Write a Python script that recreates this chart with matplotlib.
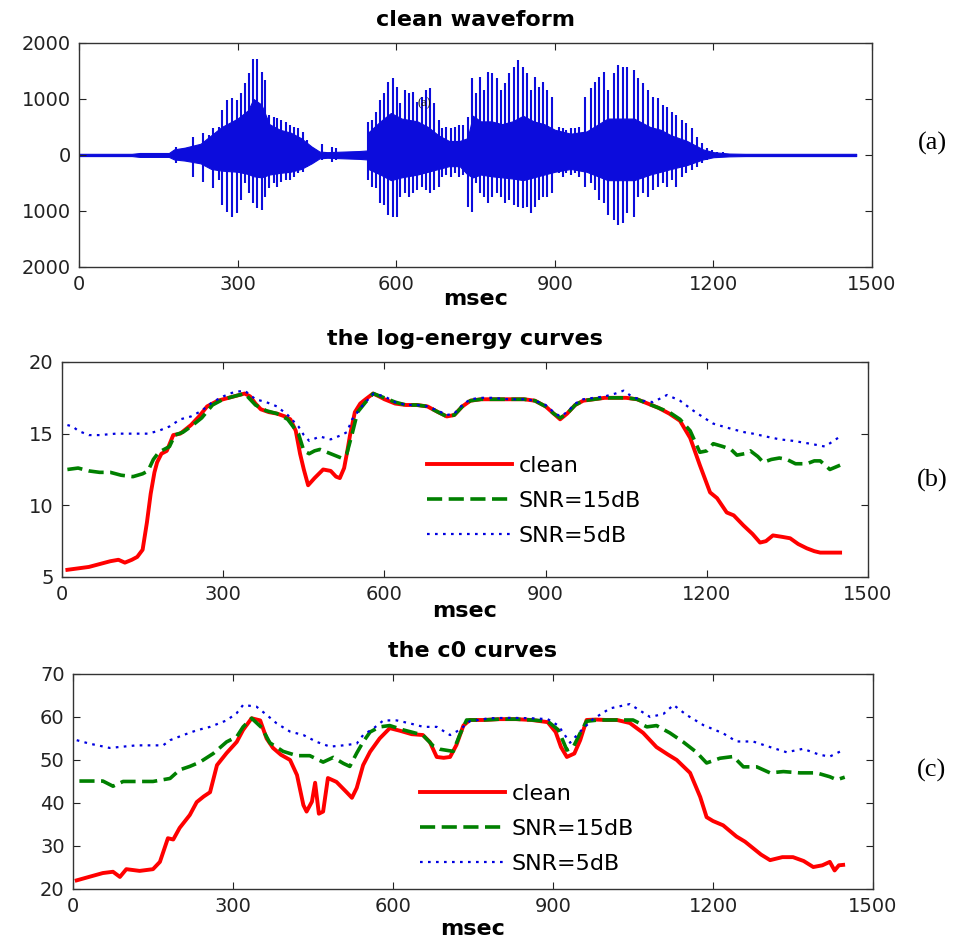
"""Speech frame features: clean waveform, log-energy and c0 under noise."""

import matplotlib

matplotlib.use("Agg")
import matplotlib.pyplot as plt
from matplotlib.ticker import FixedLocator, FixedFormatter

plt.rcParams["font.family"] = "DejaVu Sans"

# ---- (a) waveform: body envelope and pitch pulses (msec, amplitude) ----
ENV_T = [0, 100, 115, 170, 180, 200, 230, 250, 270, 300, 320, 330, 345, 360, 380,
         400, 420, 440, 455, 470, 500, 530, 545, 547, 570, 590, 610, 640, 660, 680,
         700, 720, 735, 745, 760, 780, 800, 820, 840, 860, 880, 900, 930, 960, 1000,
         1050, 1080, 1100, 1120, 1150, 1180, 1200, 1230, 1260, 1470]
ENV_HI = [20, 20, 35, 35, 100, 130, 200, 350, 500, 650, 800, 1000, 900, 550, 450,
          400, 300, 150, 60, 50, 60, 70, 80, 400, 600, 750, 650, 600, 500, 350,
          250, 250, 300, 700, 600, 600, 550, 600, 700, 600, 550, 450, 380, 420, 650,
          650, 500, 450, 350, 250, 100, 50, 25, 20, 20]
ENV_LO = [-20, -20, -35, -35, -80, -100, -150, -250, -280, -300, -340, -380, -400, -350, -320,
          -300, -250, -150, -60, -50, -60, -70, -80, -250, -350, -450, -400, -350, -300, -250,
          -200, -200, -350, -400, -350, -380, -400, -420, -450, -400, -350, -300, -250, -300, -450,
          -450, -350, -300, -250, -180, -80, -40, -25, -20, -20]

PULSE_T = [183, 200, 216, 235, 246, 254, 264, 271, 279, 289, 298, 306, 314, 322, 330,
           336, 346, 352, 360, 368, 375, 383, 392, 399, 407, 415, 423, 431, 440, 459,
           478, 487,
           547, 554, 561, 569, 577, 585, 593, 601, 608, 617, 624, 632, 640, 648, 656,
           664, 672, 680, 687, 695, 703, 711, 719, 727, 735, 743, 750, 758, 766, 774,
           782, 790, 798, 806, 813, 822, 831, 839, 847, 854, 862, 870, 878, 886, 894,
           907, 915, 922, 930, 938, 946, 957, 968, 976, 984, 993, 1001, 1011, 1020,
           1028, 1037, 1049, 1058, 1067, 1077, 1086, 1096, 1105, 1112, 1121, 1130,
           1140, 1149, 1159, 1168, 1178, 1187, 1197, 1206, 1219]
PULSE_HI = [149, 120, 328, 387, 358, 477, 506, 804, 983, 1012, 983, 1102, 1280, 1459, 1709,
            1709, 1489, 1340, 715, 685, 655, 625, 596, 536, 506, 477, 417, 268, 149, 197,
            149, 120,
            596, 625, 774, 983, 1102, 1310, 1370, 1221, 923, 1161, 1102, 1131, 953, 1042, 1161,
            1191, 923, 625, 477, 506, 477, 506, 536, 536, 685, 1370, 1102, 1399, 1161, 1489,
            1459, 1370, 1161, 1280, 1459, 1578, 1697, 1578, 1459, 1161, 1399, 1221, 1310, 1161, 1042,
            506, 477, 447, 477, 477, 506, 1042, 1191, 1310, 1399, 1489, 1161, 1459, 1608,
            1578, 1578, 1518, 1370, 1280, 1161, 1042, 1012, 893, 864, 774, 715,
            625, 566, 477, 328, 208, 120, 89, 60, 48]
PULSE_LO = [-148, -89, -386, -476, -208, -595, -446, -892, -1011, -1100, -1041, -803, -505, -684, -863,
            -952, -982, -744, -595, -505, -565, -476, -446, -446, -386, -327, -297, -208, -118, -89,
            -118, -89,
            -446, -565, -595, -862, -892, -1071, -1100, -1100, -744, -684, -744, -684, -625, -565, -625,
            -684, -625, -565, -386, -357, -386, -327, -386, -357, -922, -1011, -505, -684, -744, -863,
            -744, -684, -744, -863, -803, -892, -922, -952, -922, -1041, -922, -803, -744, -744, -684,
            -327, -386, -327, -357, -327, -386, -565, -505, -625, -803, -863, -1071, -1160, -1249,
            -1219, -1041, -1100, -744, -684, -744, -625, -565, -505, -565, -446, -565,
            -386, -327, -267, -208, -148, -89, -60, -60, -42]

# ---- (b) log-energy curves ----
LE_CLEAN_T = [10, 30, 50, 70, 90, 105, 117, 130, 140, 150, 158, 165, 172, 177, 185,
              195, 207, 220, 240, 255, 270, 290, 310, 330, 340, 350, 360, 370, 385, 400,
              415, 425, 435, 443, 450, 458, 470, 486, 500, 510, 517, 525, 531, 536, 545,
              555, 565, 579, 590, 600, 620, 640, 660, 680, 700, 716, 730, 745, 760, 780,
              800, 830, 860, 880, 900, 915, 927, 940, 955, 970, 990, 1010, 1030, 1050, 1070,
              1090, 1110, 1130, 1150, 1169, 1187, 1206, 1219, 1237, 1250, 1268, 1285, 1299, 1310,
              1323, 1340, 1355, 1370, 1386, 1400, 1411, 1430, 1448]
LE_CLEAN = [5.5, 5.6, 5.7, 5.9, 6.1, 6.2, 6.0, 6.2, 6.4, 6.9, 8.8, 10.8, 12.3, 13.0, 13.6,
            13.8, 14.9, 15.0, 15.6, 16.2, 16.9, 17.3, 17.5, 17.7, 17.8, 17.6, 17.1, 16.7, 16.5, 16.4,
            16.2, 16.0, 15.2, 13.6, 12.5, 11.4, 11.9, 12.5, 12.4, 12.0, 11.9, 12.6, 13.8, 14.9, 16.5,
            17.1, 17.4, 17.8, 17.6, 17.4, 17.1, 17.0, 17.0, 16.9, 16.5, 16.2, 16.3, 16.9, 17.3, 17.4,
            17.4, 17.4, 17.4, 17.3, 16.9, 16.4, 16.0, 16.4, 17.0, 17.3, 17.4, 17.5, 17.5, 17.5, 17.4,
            17.1, 16.8, 16.4, 15.9, 14.7, 12.8, 10.9, 10.5, 9.5, 9.3, 8.6, 8.0, 7.4, 7.5,
            7.9, 7.8, 7.7, 7.3, 7.0, 6.8, 6.7, 6.7, 6.7]

LE_15DB_T = [10, 30, 50, 70, 90, 110, 132, 150, 160, 170, 180, 190, 200, 210, 225,
             240, 260, 280, 300, 320, 340, 360, 380, 400, 420, 440, 450, 460, 470, 480,
             500, 520, 530, 540, 550, 565, 579, 600, 620, 640, 660, 680, 700, 716, 730,
             745, 760, 780, 800, 830, 860, 880, 900, 915, 927, 940, 955, 970, 990, 1010,
             1030, 1050, 1070, 1090, 1110, 1130, 1150, 1169, 1187, 1200, 1212, 1230, 1245, 1256, 1270,
             1281, 1295, 1305, 1320, 1335, 1349, 1365, 1386, 1400, 1411, 1420, 1429, 1448]
LE_15DB = [12.5, 12.6, 12.4, 12.3, 12.3, 12.1, 12.0, 12.2, 12.4, 13.2, 13.7, 13.9, 14.1, 14.9, 15.1,
           15.5, 16.1, 17.0, 17.4, 17.6, 17.8, 17.0, 16.6, 16.4, 16.0, 15.0, 13.8, 13.6, 13.8, 13.9,
           13.6, 13.3, 13.6, 15.0, 16.5, 17.2, 17.8, 17.5, 17.2, 17.0, 17.0, 16.9, 16.5, 16.2, 16.3,
           16.9, 17.3, 17.4, 17.4, 17.4, 17.4, 17.3, 16.9, 16.4, 16.1, 16.4, 17.0, 17.3, 17.4, 17.5,
           17.5, 17.5, 17.4, 17.1, 16.8, 16.5, 16.0, 15.2, 13.7, 13.8, 14.3, 14.1, 13.9, 13.5, 13.6,
           13.8, 13.4, 13.0, 13.2, 13.3, 13.2, 12.9, 12.9, 13.1, 13.1, 12.8, 12.5, 12.8]

LE_5DB_T = [10, 20, 30, 50, 70, 100, 130, 160, 180, 200, 220, 240, 260, 280, 300,
            320, 340, 360, 380, 400, 420, 440, 450, 460, 480, 500, 520, 530, 540, 560,
            580, 600, 620, 640, 660, 680, 700, 716, 730, 745, 760, 780, 800, 830, 860,
            880, 900, 915, 927, 940, 955, 970, 990, 1010, 1030, 1045, 1060, 1080, 1100, 1126,
            1150, 1175, 1195, 1212, 1230, 1249, 1270, 1286, 1310, 1336, 1360, 1392, 1420, 1448]
LE_5DB = [15.6, 15.5, 15.2, 14.9, 14.9, 15.0, 15.0, 15.0, 15.2, 15.5, 16.0, 16.2, 16.6, 17.2, 17.6,
          17.9, 18.0, 17.4, 17.2, 16.9, 16.3, 15.5, 14.9, 14.5, 14.8, 14.6, 14.9, 15.1, 16.0, 17.0,
          17.8, 17.6, 17.2, 17.0, 17.0, 16.9, 16.6, 16.3, 16.4, 17.0, 17.4, 17.5, 17.5, 17.4, 17.4,
          17.3, 17.0, 16.5, 16.2, 16.5, 17.1, 17.4, 17.5, 17.6, 17.8, 18.0, 17.6, 17.3, 17.2, 17.7,
          17.3, 16.6, 16.1, 15.7, 15.5, 15.3, 15.1, 15.0, 14.8, 14.6, 14.5, 14.3, 14.1, 14.8]

# ---- (c) c0 curves ----
C0_CLEAN_T = [7, 30, 56, 75, 88, 100, 125, 150, 163, 178, 188, 200, 219, 232, 245,
              257, 270, 288, 307, 319, 335, 351, 363, 375, 390, 407, 420, 432, 438, 448,
              454, 461, 469, 478, 494, 513, 523, 532, 544, 557, 575, 594, 613, 635, 656,
              669, 682, 695, 707, 719, 732, 744, 770, 800, 830, 860, 890, 905, 915, 926,
              940, 951, 963, 980, 1000, 1020, 1044, 1069, 1094, 1115, 1132, 1157, 1176, 1188, 1200,
              1219, 1244, 1260, 1275, 1290, 1307, 1330, 1350, 1370, 1388, 1405, 1419, 1428, 1436, 1444]
C0_CLEAN = [22.0, 22.8, 23.7, 24.0, 22.8, 24.6, 24.2, 24.6, 26.3, 31.8, 31.5, 34.2, 37.2, 40.2, 41.5,
            42.5, 48.8, 51.6, 54.2, 57.0, 59.7, 59.2, 55.0, 52.8, 51.2, 50.0, 46.5, 39.5, 38.0, 40.3,
            44.7, 37.5, 38.0, 45.8, 44.9, 42.5, 41.2, 43.5, 48.8, 51.9, 55.0, 57.4, 56.8, 56.0, 55.8,
            54.2, 50.7, 50.5, 50.7, 53.5, 58.0, 59.3, 59.3, 59.5, 59.5, 59.3, 58.8, 56.5, 53.0, 50.7,
            51.5, 54.6, 59.3, 59.4, 59.3, 59.3, 58.6, 56.3, 53.0, 51.3, 50.0, 47.0, 41.4, 36.7, 35.8,
            34.8, 32.2, 31.0, 29.5, 28.0, 26.7, 27.4, 27.4, 26.5, 25.1, 25.5, 26.3, 24.3, 25.5, 25.6]

C0_15DB_T = [12, 56, 75, 94, 150, 182, 200, 219, 238, 263, 288, 307, 319, 335, 354,
             369, 394, 420, 444, 469, 488, 507, 519, 532, 544, 557, 575, 594, 619, 656,
             676, 688, 713, 725, 738, 770, 800, 830, 860, 890, 910, 926, 938, 952, 963,
             985, 1006, 1050, 1076, 1094, 1119, 1144, 1169, 1188, 1213, 1238, 1257, 1282, 1307, 1332,
             1363, 1394, 1419, 1432, 1447]
C0_15DB = [45.1, 45.1, 43.9, 45.0, 45.0, 45.7, 47.7, 48.5, 49.5, 51.5, 54.2, 55.4, 57.7, 59.7, 57.5,
           54.0, 52.0, 51.0, 51.0, 49.5, 50.6, 49.2, 48.5, 51.6, 54.2, 56.5, 57.7, 58.0, 57.0, 55.8,
           53.2, 52.5, 52.0, 55.8, 59.3, 59.3, 59.5, 59.5, 59.3, 59.0, 57.0, 52.3, 53.0, 56.5, 59.0,
           59.3, 59.3, 59.3, 57.7, 58.0, 56.3, 54.2, 51.8, 49.3, 50.4, 50.8, 48.4, 48.4, 47.0, 47.3,
           47.0, 47.0, 46.1, 45.4, 46.0]

C0_5DB_T = [7, 31, 69, 119, 169, 182, 207, 232, 257, 288, 307, 319, 344, 363, 382,
            407, 432, 457, 482, 507, 532, 544, 563, 582, 607, 632, 657, 682, 707, 725,
            744, 780, 820, 860, 890, 910, 932, 950, 975, 1007, 1044, 1082, 1107, 1126, 1150,
            1182, 1219, 1244, 1275, 1307, 1338, 1369, 1400, 1419, 1444]
C0_5DB = [54.6, 53.8, 52.8, 53.4, 53.4, 54.6, 55.8, 56.9, 57.7, 59.2, 60.9, 62.8, 62.4, 60.5, 58.5,
          56.6, 55.8, 54.2, 53.1, 53.4, 53.8, 55.8, 57.3, 59.2, 59.2, 58.5, 57.7, 57.7, 55.8, 57.0,
          59.0, 59.7, 59.8, 59.7, 59.5, 58.0, 54.0, 56.5, 59.5, 62.0, 63.0, 60.0, 60.7, 62.8, 60.5,
          58.1, 56.2, 54.3, 54.3, 53.0, 51.8, 52.6, 51.2, 50.8, 52.3]

X_TICKS = [0, 300, 600, 900, 1200, 1500]
WAVE_TICKS = [-2000, -1000, 0, 1000, 2000]
WAVE_TICK_LABELS = ["2000", "1000", "0", "1000", "2000"]
LEGEND_LABELS = ["clean", "SNR=15dB", "SNR=5dB"]

WAVE_BLUE = "#0c0cdc"
RED = "#ff0000"
GREEN = "#008000"
BLUE = "#0000e0"


def style_axes(ax, label_y):
    ax.set_xlim(0, 1500)
    ax.set_xticks(X_TICKS)
    ax.tick_params(direction="in", top=True, right=True, length=5, width=0.8,
                   pad=6, labelsize=14, colors="#222222")
    for sp in ax.spines.values():
        sp.set_color("#333333")
        sp.set_linewidth(1.0)
    ax.set_xlabel("msec", fontsize=16, fontweight="bold")
    ax.xaxis.set_label_coords(0.5, label_y)
    ax.xaxis.label.set_va("baseline")


def draw_curves(ax, series):
    lines = []
    for (t, v), color, ls, lw in zip(
        series,
        [RED, GREEN, BLUE],
        ["-", (0, (4.2, 1.8)), (0, (1.2, 2.4))],
        [2.8, 2.6, 1.6],
    ):
        (ln,) = ax.plot(t, v, color=color, linestyle=ls, linewidth=lw)
        lines.append(ln)
    return lines


def add_legend(ax, handles, anchor):
    ax.legend(handles, LEGEND_LABELS, loc="upper left", bbox_to_anchor=anchor,
              frameon=False, fontsize=16, handlelength=3.8, handletextpad=0.3,
              labelspacing=0.68, borderpad=0, borderaxespad=0)


fig = plt.figure(figsize=(9.54, 9.4), dpi=100)

# (a) clean waveform
ax1 = fig.add_axes([0.0828, 0.716, 0.8313, 0.2383])
ax1.fill_between(ENV_T, ENV_LO, ENV_HI, color=WAVE_BLUE, linewidth=0.8)
ax1.vlines(PULSE_T, PULSE_LO, PULSE_HI, color=WAVE_BLUE, linewidth=1.5)
ax1.set_ylim(-2000, 2000)
ax1.yaxis.set_major_locator(FixedLocator(WAVE_TICKS))
ax1.yaxis.set_major_formatter(FixedFormatter(WAVE_TICK_LABELS))
ax1.set_title("clean waveform", fontsize=16, fontweight="bold", pad=12)
ax1.text(654, 930, "(a)", fontsize=9, family="Liberation Serif",
         ha="center", va="center", color="#111111", zorder=5)
style_axes(ax1, -0.170)

# (b) log-energy curves
ax2 = fig.add_axes([0.065, 0.3862, 0.8449, 0.2287])
h2 = draw_curves(ax2, [(LE_CLEAN_T, LE_CLEAN), (LE_15DB_T, LE_15DB), (LE_5DB_T, LE_5DB)])
ax2.set_ylim(5, 20)
ax2.set_yticks([5, 10, 15, 20])
ax2.set_title("the log-energy curves", fontsize=16, fontweight="bold", pad=12)
style_axes(ax2, -0.186)
add_legend(ax2, h2, (0.453, 0.565))

# (c) c0 curves
ax3 = fig.add_axes([0.0765, 0.0543, 0.8386, 0.2287])
h3 = draw_curves(ax3, [(C0_CLEAN_T, C0_CLEAN), (C0_15DB_T, C0_15DB), (C0_5DB_T, C0_5DB)])
ax3.set_ylim(20, 70)
ax3.set_yticks([20, 30, 40, 50, 60, 70])
ax3.set_title("the c0 curves", fontsize=16, fontweight="bold", pad=12)
style_axes(ax3, -0.214)
add_legend(ax3, h3, (0.434, 0.49))

# panel tags on the right
for tag, y in zip(["(a)", "(b)", "(c)"], [143, 480, 770]):
    fig.text(932 / 954, 1 - y / 940, tag, fontsize=19, family="Liberation Serif",
             ha="center", va="center")

fig.savefig("out.png", dpi=100)
